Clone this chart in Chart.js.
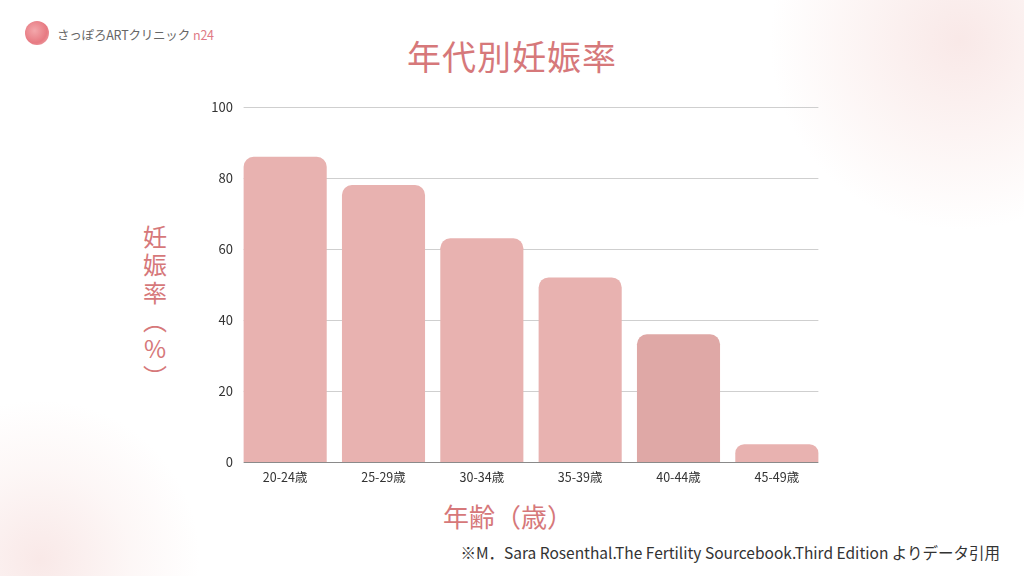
<!DOCTYPE html>
<html lang="ja">
<head>
<meta charset="utf-8">
<script src="https://cdn.jsdelivr.net/npm/chart.js@4/dist/chart.umd.min.js"></script>
<style>
  html, body { margin: 0; padding: 0; }
  body {
    width: 1024px; height: 576px; overflow: hidden; position: relative;
    font-family: "Noto Sans CJK JP", "Noto Sans", sans-serif;
    background:
      radial-gradient(circle at 960px 40px, rgba(244,214,212,0.55) 0px, rgba(248,228,226,0.35) 110px, rgba(255,255,255,0) 190px),
      radial-gradient(circle at 40px 560px, rgba(244,214,212,0.55) 0px, rgba(248,228,226,0.3) 90px, rgba(255,255,255,0) 160px),
      #ffffff;
  }
  #wrap { position: absolute; left: 0; top: 0; width: 1024px; height: 576px; }
  .logo-icon {
    position: absolute; left: 25px; top: 21px; width: 24px; height: 24px; border-radius: 50%;
    background: radial-gradient(circle at 40% 40%, #f3a7ab 0%, #e77a82 60%, #f0b5b8 100%);
  }
  .logo-text { position: absolute; left: 57px; top: 25px; font-size: 12.5px; color: #666; white-space: nowrap; letter-spacing: -0.2px; }
  .logo-text span { color: #e07a86; margin-left: 3px; }
  .title { position: absolute; left: 0; width: 1024px; top: 31px; text-align: center; font-size: 34px; color: #d6787a; letter-spacing: 1px; }
  .ytitle { position: absolute; left: 140px; top: 222px; width: 30px; font-size: 24px; color: #d6787a; line-height: 28px; text-align: center; }
  .xtitle { position: absolute; left: 0; width: 1016px; top: 497px; text-align: center; font-size: 26px; color: #d6787a; }
  .note { position: absolute; right: 24px; top: 541px; font-size: 15.5px; color: #333; white-space: nowrap; }
</style>
</head>
<body>
<div class="logo-icon"></div>
<div class="logo-text">さっぽろARTクリニック<span>n24</span></div>
<div class="title">年代別妊娠率</div>
<div class="ytitle">妊<br>娠<br>率<br>︵<br>%<br>︶</div>
<div class="xtitle">年齢（歳）</div>
<div class="note">※M．Sara Rosenthal.The Fertility Sourcebook.Third Edition よりデータ引用</div>
<div id="wrap"><canvas id="grafico" width="1024" height="576"></canvas></div>
<script>
// dados
const faixas = ['20-24歳', '25-29歳', '30-34歳', '35-39歳', '40-44歳', '45-49歳'];
const taxas = [86, 78, 63, 52, 36, 5];
const coresBarra = ['#e8b2b0', '#e8b2b0', '#e8b2b0', '#e8b2b0', '#dfa8a6', '#e8b2b0'];
const ticksY = [0, 20, 40, 60, 80, 100];

// linhas de grade só entre a primeira e a última barra
const gradePlugin = {
    id: 'grade',
    beforeDatasetsDraw(chart) {
        const ctx = chart.ctx;
        const y = chart.scales.y;
        const barras = chart.getDatasetMeta(0).data;
        const x0 = barras[0].x - barras[0].width / 2;
        const x1 = barras[barras.length - 1].x + barras[barras.length - 1].width / 2;
        ctx.save();
        ticksY.forEach(v => {
            const py = Math.round(y.getPixelForValue(v)) + 0.5;
            ctx.strokeStyle = v === 0 ? '#8a8a8a' : '#cfcfcf';
            ctx.lineWidth = 1;
            ctx.beginPath();
            ctx.moveTo(x0, py);
            ctx.lineTo(x1, py);
            ctx.stroke();
        });
        ctx.restore();
    }
};

const canvas = document.getElementById('grafico');

new Chart(canvas, {
    type: 'bar',
    data: {
        labels: faixas,
        datasets: [{
            data: taxas,
            backgroundColor: coresBarra,
            borderRadius: { topLeft: 10, topRight: 10 },
            borderSkipped: 'bottom',
            categoryPercentage: 0.845,
            barPercentage: 1
        }]
    },
    options: {
        responsive: false,
        animation: false,
        layout: { padding: { top: 107, right: 198, left: 0, bottom: 0 } },
        plugins: {
            legend: { display: false },
            tooltip: { enabled: false }
        },
        scales: {
            x: {
                grid: { display: false, drawTicks: false },
                border: { display: false },
                ticks: { color: '#333', font: { size: 12.5, family: '"Noto Sans CJK JP"' }, padding: 8 },
                afterFit: (scale) => { scale.height = 114; }
            },
            y: {
                min: 0, max: 100,
                afterBuildTicks: (scale) => { scale.ticks = ticksY.map(v => ({ value: v })); },
                grid: { display: false, drawTicks: false },
                border: { display: false },
                ticks: { color: '#333', font: { size: 13, family: '"Noto Sans CJK JP"' }, padding: 3 },
                afterFit: (scale) => { scale.width = 236; }
            }
        }
    },
    plugins: [gradePlugin]
});
</script>
</body>
</html>
